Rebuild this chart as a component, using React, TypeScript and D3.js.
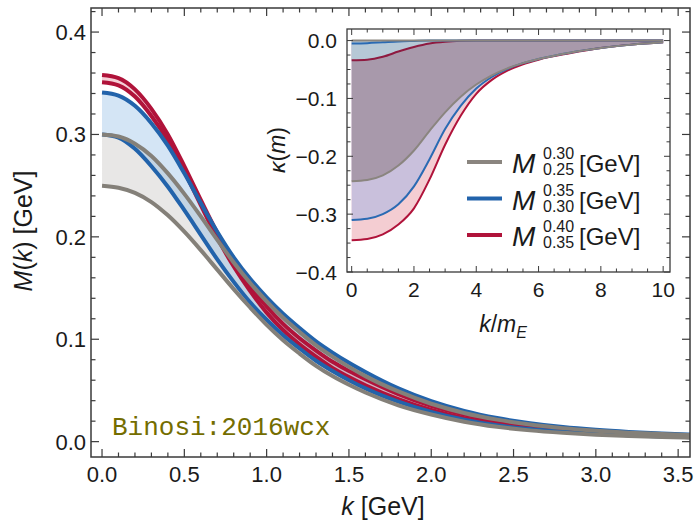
import React from "react";
import * as d3 from "d3";

// ---------- main plot data: M(k) [GeV] vs k [GeV] ----------
const K = [0, 0.1, 0.2, 0.3, 0.4, 0.5, 0.6, 0.7, 0.8, 0.9, 1.0, 1.1, 1.2, 1.3, 1.4, 1.5, 1.6, 1.8, 2.0, 2.2, 2.4, 2.6, 2.8, 3.0, 3.2, 3.4, 3.6];
const redUpper = [0.358, 0.355, 0.344, 0.325, 0.3, 0.269, 0.236, 0.204, 0.176, 0.152, 0.132, 0.115, 0.101, 0.089, 0.078, 0.069, 0.061, 0.0465, 0.035, 0.0265, 0.0203, 0.0157, 0.0124, 0.01, 0.0082, 0.0069, 0.0059];
const redLower = [0.351, 0.348, 0.337, 0.318, 0.294, 0.264, 0.231, 0.199, 0.171, 0.147, 0.126, 0.109, 0.095, 0.083, 0.072, 0.063, 0.055, 0.0415, 0.031, 0.023, 0.0175, 0.0135, 0.0106, 0.0085, 0.007, 0.0058, 0.0049];
const blueUpper = [0.341, 0.338, 0.328, 0.311, 0.289, 0.262, 0.233, 0.205, 0.18, 0.159, 0.141, 0.125, 0.111, 0.098, 0.087, 0.077, 0.068, 0.052, 0.0395, 0.03, 0.023, 0.018, 0.0142, 0.0115, 0.0095, 0.008, 0.0069];
const blueLower = [0.3, 0.297, 0.286, 0.269, 0.249, 0.226, 0.202, 0.178, 0.156, 0.136, 0.119, 0.104, 0.091, 0.079, 0.069, 0.06, 0.052, 0.039, 0.029, 0.0215, 0.016, 0.0123, 0.0096, 0.0076, 0.0062, 0.0051, 0.0043];
const grayUpper = [0.3, 0.298, 0.291, 0.279, 0.262, 0.242, 0.22, 0.197, 0.175, 0.155, 0.137, 0.121, 0.107, 0.094, 0.083, 0.073, 0.064, 0.049, 0.037, 0.028, 0.0215, 0.0167, 0.0132, 0.0107, 0.0088, 0.0074, 0.0064];
const grayLower = [0.25, 0.248, 0.243, 0.234, 0.221, 0.205, 0.187, 0.168, 0.149, 0.131, 0.114, 0.099, 0.086, 0.074, 0.064, 0.0555, 0.048, 0.0355, 0.0265, 0.0195, 0.0145, 0.011, 0.0086, 0.0068, 0.0055, 0.0045, 0.0037];

const mainXTicks = [0, 0.5, 1, 1.5, 2, 2.5, 3, 3.5];
const mainYTicks = [0, 0.1, 0.2, 0.3, 0.4];

// ---------- inset data: kappa(m) vs k/m_E ----------
const K2 = [0, 0.5, 1, 1.5, 2, 2.5, 3, 3.5, 4, 4.5, 5, 5.5, 6, 7, 8, 9, 10];
const kGrayLow = [-0.243, -0.241, -0.233, -0.216, -0.19, -0.156, -0.124, -0.097, -0.076, -0.06, -0.048, -0.039, -0.032, -0.021, -0.013, -0.007, -0.003];
const kBlueLow = [-0.31, -0.308, -0.3, -0.283, -0.252, -0.205, -0.153, -0.113, -0.083, -0.063, -0.049, -0.039, -0.032, -0.021, -0.013, -0.007, -0.003];
const kRedLow = [-0.345, -0.343, -0.335, -0.318, -0.29, -0.24, -0.18, -0.13, -0.092, -0.068, -0.052, -0.041, -0.033, -0.022, -0.013, -0.007, -0.003];
const kGrayUp = [0, 0, 0, 0, 0, 0, 0, 0, 0, 0, 0, 0, 0, 0, 0, 0, 0];
const kBlueUp = [-0.005, -0.0045, -0.003, -0.0015, -0.0007, 0, 0, 0, 0, 0, 0, 0, 0, 0, 0, 0, 0];
const kRedUp = [-0.034, -0.033, -0.028, -0.019, -0.011, -0.005, -0.002, -0.0005, 0, 0, 0, 0, 0, 0, 0, 0, 0];

const insetXTicks = [0, 2, 4, 6, 8, 10];
const insetYTicks = [0, -0.1, -0.2, -0.3, -0.4];

const legendItems = [
  { sup: "0.30", sub: "0.25", color: "#8a857f" },
  { sup: "0.35", sub: "0.30", color: "#2263ab" },
  { sup: "0.40", sub: "0.35", color: "#b0133a" },
];

const FONT = "'Liberation Sans', Arial, Helvetica, sans-serif";
const FRAME = "#3a3a3a";

function fmt(v: number) {
  const s = Math.abs(v).toFixed(1);
  return v < -1e-9 ? "\u2212" + s : s;
}

function range(a: number, b: number, step: number) {
  const out: number[] = [];
  const n = Math.round((b - a) / step);
  for (let i = 0; i <= n; i++) out.push(+(a + i * step).toFixed(6));
  return out;
}

export default function App() {
  // main scales
  const x = d3.scaleLinear().domain([-0.067, 3.572]).range([91, 690]);
  const y = d3.scaleLinear().domain([-0.015, 0.4235]).range([457, 8]);
  const [x0, x1] = x.range();
  const [y0, y1] = y.range();

  const line = (vals: number[]) =>
    d3.line<number>().x((_, i) => x(K[i])).y((v) => y(v)).curve(d3.curveMonotoneX)(vals) || "";
  const band = (lo: number[], hi: number[]) =>
    d3
      .area<number>()
      .x((_, i) => x(K[i]))
      .y0((_, i) => y(lo[i]))
      .y1((_, i) => y(hi[i]))
      .curve(d3.curveMonotoneX)(K) || "";

  // inset scales
  const ix = d3.scaleLinear().domain([-0.15, 10.22]).range([347, 670]);
  const iy = d3.scaleLinear().domain([-0.4, 0.02]).range([272, 29]);
  const [ix0, ix1] = ix.range();
  const [iy0, iy1] = iy.range();
  const iline = (vals: number[]) =>
    d3.line<number>().x((_, i) => ix(K2[i])).y((v) => iy(v)).curve(d3.curveMonotoneX)(vals) || "";
  const iband = (lo: number[], hi: number[]) =>
    d3
      .area<number>()
      .x((_, i) => ix(K2[i]))
      .y0((_, i) => iy(lo[i]))
      .y1((_, i) => iy(hi[i]))
      .curve(d3.curveMonotoneX)(K2) || "";

  const mainXMinor = range(0, 3.5, 0.1);
  const mainYMinor = range(0, 0.42, 0.02);
  const insetXMinor = range(0, 10, 0.5);
  const insetYMinor = range(-0.4, 0.0, 0.025);

  const curveW = 4;

  return (
    <svg
      width={696}
      height={528}
      viewBox="0 0 696 528"
      style={{ position: "absolute", left: 0, top: 0, background: "#fff" }}
      fontFamily={FONT}
    >
      <rect x={0} y={0} width={696} height={528} fill="#fff" />
      <defs>
        <clipPath id="mainClip">
          <rect x={x0} y={y1} width={x1 - x0} height={y0 - y1} />
        </clipPath>
        <clipPath id="insetClip">
          <rect x={ix0} y={iy1} width={ix1 - ix0} height={iy0 - iy1} />
        </clipPath>
      </defs>

      {/* main bands */}
      <g clipPath="url(#mainClip)">
        <path d={band(grayLower, grayUpper)} fill="rgba(160,155,150,0.24)" />
        <path d={band(blueLower, blueUpper)} fill="rgba(120,175,225,0.32)" />
        <path d={band(redLower, redUpper)} fill="rgba(225,110,130,0.32)" />
        <path d={line(redUpper)} fill="none" stroke="#b0133a" strokeWidth={curveW} />
        <path d={line(redLower)} fill="none" stroke="#b0133a" strokeWidth={curveW} />
        <path d={line(blueUpper)} fill="none" stroke="#2263ab" strokeWidth={curveW} />
        <path d={line(blueLower)} fill="none" stroke="#2263ab" strokeWidth={curveW} />
        <path d={line(grayUpper)} fill="none" stroke="#848079" strokeWidth={curveW} />
        <path d={line(grayLower)} fill="none" stroke="#848079" strokeWidth={curveW} />
      </g>

      {/* main frame */}
      <rect x={x0} y={y1} width={x1 - x0} height={y0 - y1} fill="none" stroke={FRAME} strokeWidth={1.5} />
      {mainXMinor.map((t) => {
        const major = mainXTicks.some((m) => Math.abs(m - t) < 1e-6);
        const L = major ? 8 : 4.5;
        return (
          <g key={"mx" + t} stroke={FRAME} strokeWidth={1.2}>
            <line x1={x(t)} x2={x(t)} y1={y0} y2={y0 - L} />
            <line x1={x(t)} x2={x(t)} y1={y1} y2={y1 + L} />
          </g>
        );
      })}
      {mainYMinor.map((t) => {
        const major = mainYTicks.some((m) => Math.abs(m - t) < 1e-6);
        const L = major ? 8 : 4.5;
        return (
          <g key={"my" + t} stroke={FRAME} strokeWidth={1.2}>
            <line x1={x0} x2={x0 + L} y1={y(t)} y2={y(t)} />
            <line x1={x1} x2={x1 - L} y1={y(t)} y2={y(t)} />
          </g>
        );
      })}
      {mainXTicks.map((t) => (
        <text key={"mxl" + t} x={x(t)} y={482} textAnchor="middle" fontSize={22} fill="#1a1a1a">
          {t.toFixed(1)}
        </text>
      ))}
      {mainYTicks.map((t) => (
        <text key={"myl" + t} x={86} y={y(t) + 8} textAnchor="end" fontSize={22} fill="#1a1a1a">
          {t.toFixed(1)}
        </text>
      ))}
      <text x={383} y={515} textAnchor="middle" fontSize={25} fill="#1a1a1a">
        <tspan fontStyle="italic">k</tspan> [GeV]
      </text>
      <text transform="translate(32,231) rotate(-90)" textAnchor="middle" fontSize={25} fill="#1a1a1a">
        <tspan fontStyle="italic">M</tspan>(<tspan fontStyle="italic">k</tspan>) [GeV]
      </text>

      <text x={112} y={435} fontFamily="'Liberation Mono', 'DejaVu Sans Mono', monospace" fontSize={26} fill="#746d00">
        Binosi:2016wcx
      </text>

      {/* inset */}
      <rect x={ix0} y={iy1} width={ix1 - ix0} height={iy0 - iy1} fill="#fff" />
      <g clipPath="url(#insetClip)">
        <path d={iband(kRedLow, kRedUp)} fill="#f4cdd2" />
        <path d={iband(kBlueLow, kBlueUp)} fill="#c9c0dc" />
        <path d={iband(kGrayLow, kGrayUp)} fill="#a899ab" />
        <path d={iband(kRedUp, kGrayUp)} fill="#b6c8d6" />
        <path d={iline(kRedLow)} fill="none" stroke="#b0133a" strokeWidth={2} />
        <path d={iline(kRedUp)} fill="none" stroke="#8e1a40" strokeWidth={2} />
        <path d={iline(kBlueLow)} fill="none" stroke="#2a6ab3" strokeWidth={2} />
        <path d={iline(kBlueUp)} fill="none" stroke="#2a6ab3" strokeWidth={2} />
        <path d={iline(kGrayLow)} fill="none" stroke="#8a857f" strokeWidth={2} />
        <path d={iline(kGrayUp)} fill="none" stroke="#8a857f" strokeWidth={2} />
      </g>
      <rect x={ix0} y={iy1} width={ix1 - ix0} height={iy0 - iy1} fill="none" stroke={FRAME} strokeWidth={1.3} />
      {insetXMinor.map((t) => {
        const major = insetXTicks.some((m) => Math.abs(m - t) < 1e-6);
        const L = major ? 6 : 3.5;
        return (
          <g key={"ix" + t} stroke={FRAME} strokeWidth={1}>
            <line x1={ix(t)} x2={ix(t)} y1={iy0} y2={iy0 - L} />
            <line x1={ix(t)} x2={ix(t)} y1={iy1} y2={iy1 + L} />
          </g>
        );
      })}
      {insetYMinor.map((t) => {
        const major = insetYTicks.some((m) => Math.abs(m - t) < 1e-6);
        const L = major ? 6 : 3.5;
        return (
          <g key={"iy" + t} stroke={FRAME} strokeWidth={1}>
            <line x1={ix0} x2={ix0 + L} y1={iy(t)} y2={iy(t)} />
            <line x1={ix1} x2={ix1 - L} y1={iy(t)} y2={iy(t)} />
          </g>
        );
      })}
      {insetXTicks.map((t) => (
        <text key={"ixl" + t} x={ix(t)} y={297} textAnchor="middle" fontSize={21} fill="#1a1a1a">
          {String(t)}
        </text>
      ))}
      {insetYTicks.map((t) => (
        <text key={"iyl" + t} x={337} y={iy(t) + 7.5} textAnchor="end" fontSize={21} fill="#1a1a1a">
          {fmt(t)}
        </text>
      ))}
      <text x={503} y={332} textAnchor="middle" fontSize={23} fill="#1a1a1a">
        <tspan fontStyle="italic">k</tspan>/<tspan fontStyle="italic">m</tspan>
        <tspan fontStyle="italic" fontSize={16} dy={6}>E</tspan>
      </text>
      <text transform="translate(285,150) rotate(-90)" textAnchor="middle" fontSize={23} fill="#1a1a1a">
        <tspan fontStyle="italic">κ</tspan>(<tspan fontStyle="italic">m</tspan>)
      </text>

      {/* legend */}
      {legendItems.map((it, i) => {
        const ly = 162 + i * 36.5;
        return (
          <g key={"lg" + i}>
            <line x1={467} x2={502} y1={ly} y2={ly} stroke={it.color} strokeWidth={4} />
            <text x={512} y={ly + 11} fontSize={28} fontStyle="italic" fill="#1a1a1a">M</text>
            <text x={543} y={ly - 3} fontSize={16} fill="#1a1a1a">{it.sup}</text>
            <text x={543} y={ly + 13} fontSize={16} fill="#1a1a1a">{it.sub}</text>
            <text x={579} y={ly + 10} fontSize={24} fill="#1a1a1a">[GeV]</text>
          </g>
        );
      })}
    </svg>
  );
}
